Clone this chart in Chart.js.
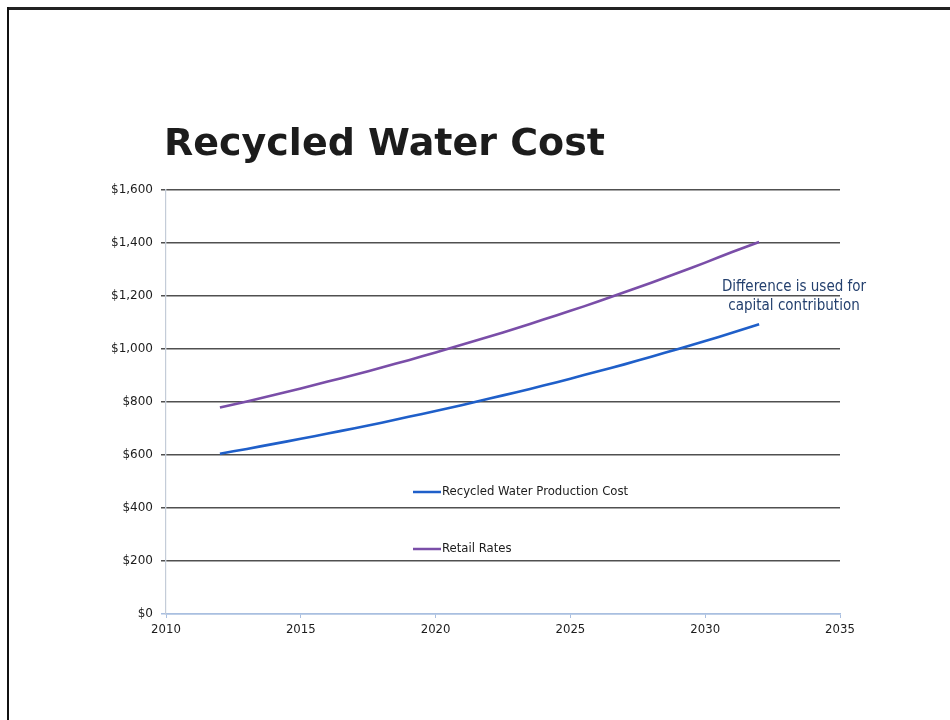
<!DOCTYPE html>
<html>
<head>
<meta charset="utf-8">
<script src="https://cdn.jsdelivr.net/npm/chart.js@4.4.1/dist/chart.umd.min.js"></script>
<style>
  html, body { margin: 0; padding: 0; background: #ffffff; }
  #page { position: relative; width: 950px; height: 720px; overflow: hidden; background: #ffffff; }
  #frameTop { position: absolute; left: 7px; top: 7px; width: 960px; height: 3px; background: #222; }
  #frameLeft { position: absolute; left: 7px; top: 7px; width: 2px; height: 720px; background: #111; }
  #chart { position: absolute; left: 0; top: 0; }
</style>
</head>
<body>
<div id="page">
  <canvas id="chart" width="950" height="720"></canvas>
  <div id="frameTop"></div>
  <div id="frameLeft"></div>
</div>
<script>
// Annual cost per acre-foot, 2012 through 2032
const years = [2012, 2013, 2014, 2015, 2016, 2017, 2018, 2019, 2020, 2021, 2022,
               2023, 2024, 2025, 2026, 2027, 2028, 2029, 2030, 2031, 2032];
const productionCost = [605, 623, 642, 661, 681, 701, 722, 744, 766, 789, 813,
                        837, 862, 888, 915, 942, 971, 1000, 1030, 1061, 1093];
const retailRates = [779, 802, 826, 851, 877, 903, 930, 958, 987, 1017, 1047,
                     1078, 1111, 1144, 1178, 1214, 1250, 1288, 1326, 1366, 1404];
const xTicks = [2010, 2015, 2020, 2025, 2030, 2035];
const yTicks = [0, 200, 400, 600, 800, 1000, 1200, 1400, 1600];

const titleText = 'Recycled Water Cost';
const noteLines = ['Difference is used for', 'capital contribution'];

const toPoints = (xs, ys) => xs.map((x, i) => ({ x: x, y: ys[i] }));
const money = v => '$' + v.toLocaleString('en-US');

// Title, callout text and the stacked legend drawn onto the canvas
const decorations = {
  id: 'decorations',
  afterDraw(chart) {
    const ctx = chart.ctx;
    const area = chart.chartArea;
    ctx.save();
    ctx.fillStyle = '#1c1c1c';
    ctx.font = "bold 38px 'DejaVu Sans', sans-serif";
    ctx.textAlign = 'left';
    ctx.textBaseline = 'alphabetic';
    ctx.fillText(titleText, area.left - 2, 155);

    ctx.fillStyle = '#24406e';
    ctx.font = "15px 'DejaVu Sans Condensed', 'DejaVu Sans', sans-serif";
    ctx.textAlign = 'center';
    ctx.textBaseline = 'middle';
    ctx.fillText(noteLines[0], 794, 287);
    ctx.fillText(noteLines[1], 794, 306);

    const rows = [492, 549];
    chart.data.datasets.forEach((ds, i) => {
      const y = rows[i];
      ctx.strokeStyle = ds.borderColor;
      ctx.lineWidth = 2.5;
      ctx.beginPath();
      ctx.moveTo(413, y);
      ctx.lineTo(441, y);
      ctx.stroke();
      ctx.fillStyle = '#1c1c1c';
      ctx.font = "13px 'DejaVu Sans Condensed', 'DejaVu Sans', sans-serif";
      ctx.textAlign = 'left';
      ctx.textBaseline = 'middle';
      ctx.fillText(ds.label, 442, y);
    });
    ctx.restore();
  }
};

new Chart(document.getElementById('chart'), {
  type: 'line',
  data: {
    datasets: [
      {
        label: 'Recycled Water Production Cost',
        data: toPoints(years, productionCost),
        borderColor: '#1f5fc9',
        borderWidth: 2.6,
        pointRadius: 0,
        tension: 0.3,
        fill: false
      },
      {
        label: 'Retail Rates',
        data: toPoints(years, retailRates),
        borderColor: '#7a4ea8',
        borderWidth: 2.6,
        pointRadius: 0,
        tension: 0.3,
        fill: false
      }
    ]
  },
  options: {
    responsive: false,
    animation: false,
    devicePixelRatio: 1,
    layout: { padding: { left: 100, right: 110, top: 190, bottom: 66 } },
    plugins: {
      legend: { display: false },
      title: { display: false },
      tooltip: { enabled: false }
    },
    scales: {
      x: {
        type: 'linear',
        min: xTicks[0],
        max: xTicks[xTicks.length - 1],
        afterBuildTicks: scale => { scale.ticks = xTicks.map(v => ({ value: v })); },
        afterFit: scale => { scale.height = 40; },
        border: { display: true, color: '#a9bfe0', width: 1.5 },
        grid: { drawOnChartArea: false, drawTicks: true, tickLength: 4, color: '#a9bfe0' },
        ticks: {
          color: '#1c1c1c',
          font: { family: "'DejaVu Sans Condensed', 'Liberation Sans', sans-serif", size: 13 },
          padding: 4,
          callback: v => String(v)
        }
      },
      y: {
        min: yTicks[0],
        max: yTicks[yTicks.length - 1],
        afterBuildTicks: scale => { scale.ticks = yTicks.map(v => ({ value: v })); },
        afterFit: scale => { scale.width = 66; },
        border: { display: true, color: '#c4ccd8', width: 1.2 },
        grid: {
          drawTicks: true,
          tickLength: 5,
          lineWidth: 1.5,
          color: ctx => (ctx.tick && ctx.tick.value === 0) ? '#a9bfe0' : '#505050'
        },
        ticks: {
          color: '#1c1c1c',
          font: { family: "'DejaVu Sans', sans-serif", size: 12 },
          padding: 8,
          callback: v => money(v)
        }
      }
    }
  },
  plugins: [decorations]
});
</script>
</body>
</html>
